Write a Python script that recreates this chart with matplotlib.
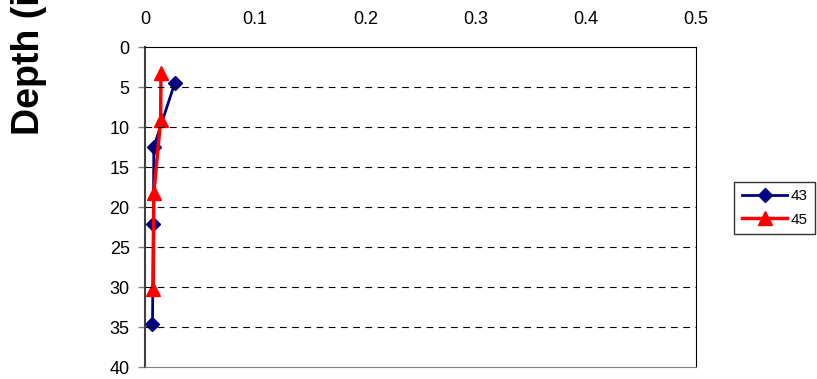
import numpy as np
from matplotlib import pyplot as plt

plt.rcParams['font.family'] = ['Liberation Sans', 'DejaVu Sans']

# profile values (x) against depth
depth_43 = [4.5, 12.5, 22.1, 34.6]
val_43 = [0.027, 0.008, 0.0076, 0.0068]
depth_45 = [3.2, 9.1, 18.3, 30.2]
val_45 = [0.0145, 0.0142, 0.008, 0.0075]

xticks = [0, 0.1, 0.2, 0.3, 0.4, 0.5]
yticks = [0, 5, 10, 15, 20, 25, 30, 35, 40]

fig = plt.figure(figsize=(8.17, 3.79), dpi=100)
ax = fig.add_axes([145/817, 1-367/379, (696-145)/817, (367-47)/379])

ax.plot(val_43, depth_43, color='#000080', marker='D', markersize=7, lw=2, label='43')
ax.plot(val_45, depth_45, color='#ff0000', marker='^', markersize=10, lw=2.5, label='45')

ax.set_xlim(0, 0.5)
ax.set_ylim(40, 0)
ax.set_xticks(xticks)
ax.set_xticklabels(['0', '0.1', '0.2', '0.3', '0.4', '0.5'])
ax.set_yticks(yticks)
ax.xaxis.tick_top()
ax.tick_params(axis='x', length=0, pad=14, labelsize=13)
ax.tick_params(axis='y', length=5, width=1, color='#808080', pad=6, labelsize=13)

for d in yticks[1:-1]:
    ax.axhline(d, color='black', lw=0.8, ls=(0, (6, 5)))

for s in ['top', 'right', 'bottom']:
    ax.spines[s].set_linewidth(0.8)
ax.spines['bottom'].set_color('#808080')
ax.spines['left'].set_linewidth(1.5)
ax.spines['left'].set_color('#404040')

fig.text(29/817, 1-135/379, 'Depth (in)', rotation=90, ha='center', va='bottom',
         fontsize=27, fontweight='bold')

leg = ax.legend(loc='center left', bbox_to_anchor=(734/817, 1-208/379),
                bbox_transform=fig.transFigure, frameon=True, fancybox=False,
                fontsize=11, handlelength=3.0, borderpad=0.5, labelspacing=0.6,
                handletextpad=0.2, borderaxespad=0)
leg.get_frame().set_edgecolor('black')
leg.get_frame().set_linewidth(1)

fig.savefig('out.png', dpi=100)
